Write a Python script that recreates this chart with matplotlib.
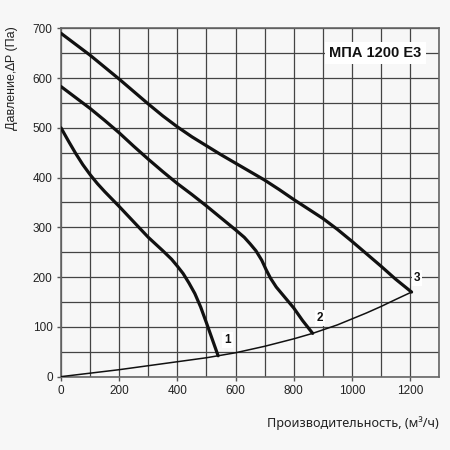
import matplotlib.pyplot as plt
import numpy as np

# curve data
x1 = [0, 25, 50, 75, 100, 125, 150, 200, 250, 300, 350, 380, 400, 420, 440,
      460, 480, 500, 520, 540]
y1 = [500, 474, 449, 426, 406, 388, 372, 342, 311, 280, 253, 236, 222, 207,
      188, 167, 140, 108, 75, 42]

x2 = [0, 50, 100, 150, 200, 250, 300, 350, 400, 450, 500, 550, 600, 630, 650,
      670, 690, 705, 720, 740, 770, 800, 830, 865]
y2 = [583, 561, 539, 515, 490, 463, 437, 412, 388, 366, 343, 319, 295, 280,
      267, 253, 234, 215, 198, 180, 159, 138, 113, 87]

x3 = [0, 50, 100, 150, 200, 250, 300, 350, 400, 450, 500, 550, 600, 650, 700,
      750, 800, 850, 900, 950, 1000, 1050, 1100, 1150, 1205]
y3 = [690, 668, 646, 622, 598, 573, 548, 524, 502, 482, 464, 446, 429, 412,
      395, 376, 356, 337, 318, 296, 272, 247, 222, 196, 170]

xs = [0, 100, 200, 300, 400, 500, 540, 600, 700, 800, 865, 900, 950, 1000,
      1050, 1100, 1150, 1205]
ys = [0, 7, 14, 22, 30, 38, 42, 48, 61, 76, 87, 94, 104, 116, 128, 141, 155, 170]

labels = ["1", "2", "3"]
label_x = [571, 890, 1224]
label_y = [74, 118, 198]

title = "МПА 1200 Е3"
BG = "#f7f7f7"

fig = plt.figure(figsize=(4.5, 4.5), dpi=100, facecolor=BG)
ax = fig.add_axes([0.1356, 0.163, 0.8404, 0.774])
ax.set_facecolor(BG)

ax.set_xlim(0, 1300)
ax.set_ylim(0, 700)
ax.set_xticks(np.arange(0, 1201, 200))
ax.set_xticks(np.arange(100, 1301, 100), minor=True)
ax.set_yticks(np.arange(0, 701, 100))
ax.set_yticks(np.arange(50, 701, 50), minor=True)
ax.grid(True, which="both", color="#444444", linewidth=0.9)
ax.set_axisbelow(True)
ax.tick_params(which="major", length=3, width=1, color="#555555",
               labelsize=8.5, pad=3, labelcolor="#222222")
ax.tick_params(which="minor", length=0)
for lab in ax.get_xticklabels() + ax.get_yticklabels():
    lab.set_family("Liberation Sans")
for s in ax.spines.values():
    s.set_color("#666666")
    s.set_linewidth(1.2)

ax.plot(xs, ys, color="#111111", linewidth=1.1, zorder=3)
for xx, yy in [(x1, y1), (x2, y2), (x3, y3)]:
    ax.plot(xx, yy, color="#111111", linewidth=2.3, zorder=4,
            solid_joinstyle="round", solid_capstyle="round")

for t, lx, ly in zip(labels, label_x, label_y):
    ax.text(lx, ly, t, fontsize=8.5, fontweight="bold", family="Liberation Sans",
            ha="center", va="center", color="#111111", zorder=5,
            bbox=dict(facecolor="white", edgecolor="none", pad=1.5))

ax.text(1080, 650, title, fontsize=10.5, fontweight="bold", family="Liberation Sans",
        ha="center", va="center", color="#111111", zorder=5,
        bbox=dict(facecolor="white", edgecolor="none", pad=3))

fig.text(0.975, 0.06, "Производительность, (м³/ч)", fontsize=9.1,
         family="Noto Sans", ha="right", va="center", color="#222222")
fig.text(0.027, 0.827, "Давление,∆P (Па)", fontsize=9, rotation=90,
         family="Liberation Sans", ha="center", va="center", color="#222222")

fig.savefig("out.png", dpi=100, facecolor=BG)
